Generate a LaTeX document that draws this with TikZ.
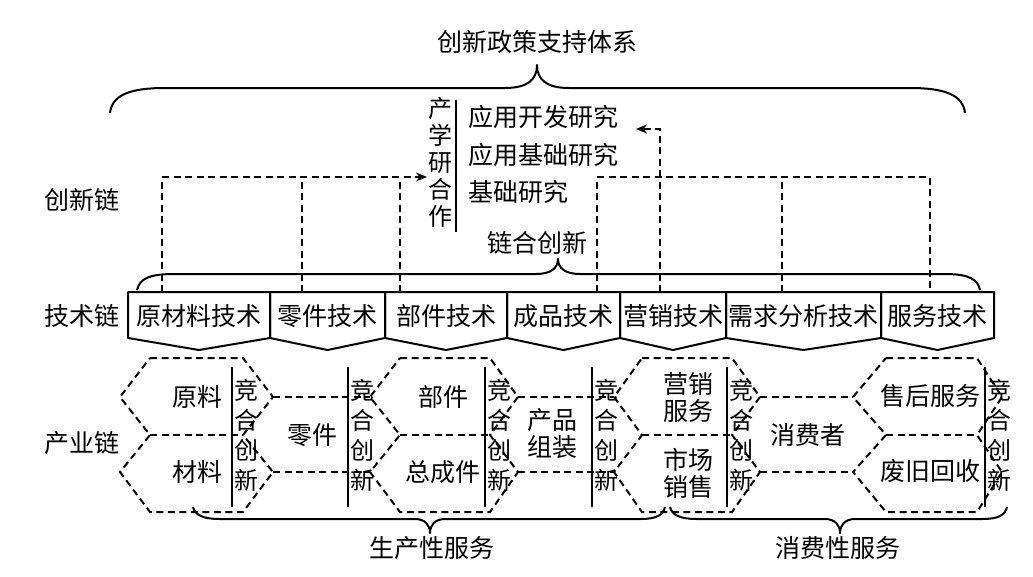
\documentclass[tikz,border=0pt]{standalone}
\usepackage{fontspec}
\setmainfont{Noto Sans CJK SC}
\usetikzlibrary{arrows.meta}
\newcommand\hexpair[5]{%
  \coordinate (#1-lt) at (#2,397); \coordinate (#1-lb) at (#2,472);
  \coordinate (#1-rt) at (#5,397); \coordinate (#1-rb) at (#5,472);
  \draw[dsh] (#3,358) -- (#4,358) -- (#1-rt) -- (#4,435) -- (#1-rb) -- (#4,512)
     -- (#3,512) -- (#1-lb) -- (#3,435) -- (#1-lt) -- cycle;
  \draw[dsh] (#3,435) -- (#4,435);
}
\begin{document}
\begin{tikzpicture}[x=1pt,y=-1pt,
  ln/.style={line width=2pt, line join=round},
  dsh/.style={line width=2pt, dash pattern=on 7pt off 4.5pt},
  txt/.style={font=\fontsize{25}{27}\selectfont, inner sep=0pt},
  two/.style={font=\fontsize{25}{27}\selectfont, inner sep=0pt, align=center},
  vt/.style={font=\fontsize{24}{30}\selectfont, inner sep=0pt, align=center},
  vt2/.style={font=\fontsize{24}{27}\selectfont, inner sep=0pt, align=center},
  tip/.style={-{Stealth[length=11pt,width=9pt]}}]
\useasboundingbox (0,0) rectangle (1033,576);
\fill[white] (0,0) rectangle (1033,576);

% ---- top title and brace
\node[txt] (title) at (537,42) {创新政策支持体系};
\draw[ln] (110,113) .. controls (112,95) and (130,88) .. (165,88) -- (505,88)
  .. controls (527,88) and (537,80) .. (537,65)
  .. controls (537,80) and (547,88) .. (569,88) -- (910,88)
  .. controls (945,88) and (963,95) .. (965,113);

% ---- row labels
\node[txt] (lcx) at (82,200) {创新链};
\node[txt] (ljs) at (82,316) {技术链};
\node[txt] (lcy) at (82,443) {产业链};

% ---- research block
\node[vt2] (cxhz) at (440,162) {产\\学\\研\\合\\作};
\draw[ln] (456,100) -- (456,232);
\node[txt,anchor=west] (r1) at (468,117) {应用开发研究};
\node[txt,anchor=west] (r2) at (468,155) {应用基础研究};
\node[txt,anchor=west] (r3) at (468,192) {基础研究};
\node[txt] (lhcx) at (537,243) {链合创新};

% ---- middle brace
\draw[ln] (137,290) .. controls (140,278) and (150,274) .. (175,274) -- (536,274)
  .. controls (551,274) and (558,268) .. (558,259)
  .. controls (558,268) and (565,274) .. (580,274) -- (945,274)
  .. controls (970,274) and (978,280) .. (980,290);

% ---- technology chain
\foreach \a/\b/\t [count=\i] in {128/270/原材料技术,270/385/零件技术,385/507/部件技术,
   507/620/成品技术,620/726/营销技术,726/881/需求分析技术,881/994/服务技术}{
  \draw[ln] (\a,292) -- (\b,292) -- (\b,338) -- ({(\a+\b)/2},350) -- (\a,338) -- cycle;
  \node[txt] (tc\i) at ({(\a+\b)/2},316) {\t};
}

% ---- dashed innovation links
\coordinate (s1) at (162,292); \coordinate (s2) at (302,292); \coordinate (s3) at (400,292);
\coordinate (a1) at (427,177);
\draw[dsh,tip] (s1) |- (a1);
\draw[dsh] (s2) -- (302,177);
\draw[dsh] (s3) -- (400,177);
\coordinate (t1) at (597,292); \coordinate (t2) at (660,292); \coordinate (t3) at (782,292);
\coordinate (t4) at (930,292); \coordinate (a2) at (636,129);
\draw[dsh] (t1) |- (930,177) -- (t4);
\draw[dsh] (t3) -- (782,177);
\draw[dsh,tip] (t2) |- (a2);

% ---- industry chain hexagons
\hexpair{g1}{120}{150}{243}{273}
\hexpair{g3}{370}{400}{490}{518}
\hexpair{g5}{614}{642}{732}{760}
\hexpair{g7}{853}{886}{977}{1002}
\draw[dsh] (g1-rt) -- (g3-lt);  \draw[dsh] (g1-rb) -- (g3-lb);
\draw[dsh] (g3-rt) -- (g5-lt);  \draw[dsh] (g3-rb) -- (g5-lb);
\draw[dsh] (g5-rt) -- (g7-lt);  \draw[dsh] (g5-rb) -- (g7-lb);

\foreach \x/\n in {232/a,348/b,485/c,592/d,727/e,985/f}{
  \draw[ln] (\x,367) -- (\x,507);
  \node[vt] (jh\n) at (\x+14,435) {竞\\合\\创\\新};
}

\node[txt] (yl) at (197,397) {原料};
\node[txt] (cl) at (197,472) {材料};
\node[txt] (lj) at (312,435) {零件};
\node[txt] (bj) at (443,397) {部件};
\node[txt] (zcj) at (443,472) {总成件};
\node[two] (cpzz) at (552,434) {产品\\组装};
\node[two] (yxfw) at (688,397) {营销\\服务};
\node[two] (scxs) at (688,473) {市场\\销售};
\node[txt] (xfz) at (808,435) {消费者};
\node[txt] (shfw) at (930,396) {售后服务};
\node[txt] (fjhs) at (930,471) {废旧回收};

% ---- bottom braces
\draw[ln] (193,507) .. controls (195,515) and (203,519) .. (220,519) -- (415,519)
  .. controls (425,519) and (430,525) .. (430,533)
  .. controls (430,525) and (435,519) .. (445,519) -- (640,519)
  .. controls (657,519) and (663,515) .. (665,507);
\node[txt] (scxfw) at (432,548) {生产性服务};
\draw[ln] (670,507) .. controls (672,515) and (680,519) .. (697,519) -- (825,519)
  .. controls (835,519) and (840,525) .. (840,533)
  .. controls (840,525) and (845,519) .. (855,519) -- (982,519)
  .. controls (999,519) and (1005,515) .. (1007,507);
\node[txt] (xfxfw) at (838,548) {消费性服务};
\end{tikzpicture}
\end{document}
